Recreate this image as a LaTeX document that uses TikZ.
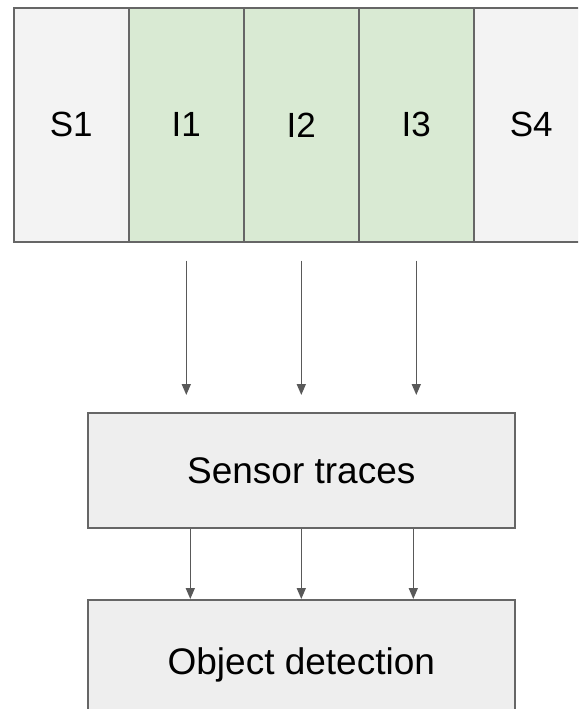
\documentclass[tikz,border=0pt]{standalone}
\usepackage{fontspec}
\setmainfont{Liberation Sans}
\usetikzlibrary{arrows.meta}
\definecolor{cellgray}{HTML}{F3F3F3}
\definecolor{cellgreen}{HTML}{D9EAD3}
\definecolor{boxgray}{HTML}{EEEEEE}
\definecolor{edge}{HTML}{666666}
\definecolor{arrowc}{HTML}{595959}
\tikzset{
  cell/.style={draw=edge, line width=1.6pt, minimum width=115pt, minimum height=234pt, inner sep=0pt, anchor=north west, font=\fontsize{35}{40}\selectfont},
  graycell/.style={cell, fill=cellgray},
  greencell/.style={cell, fill=cellgreen},
  procbox/.style={draw=edge, line width=1.6pt, fill=boxgray, minimum width=427pt, minimum height=115pt, inner sep=0pt, anchor=north west, font=\fontsize{37}{42}\selectfont},
  arr/.style={draw=arrowc, line width=1.6pt, -{Triangle[width=9pt,length=11pt]}}
}
\begin{document}
\begin{tikzpicture}[x=1pt,y=-1pt]
\useasboundingbox (0,0) rectangle (578,709);
\clip (0,0) rectangle (578,709);
\node[graycell] (S1) at (13,7) {S1};
\node[greencell] (I1) at (128,7) {I1};
\node[greencell] (I2) at (243,7) {I2};
\node[greencell] (I3) at (358,7) {I3};
\node[graycell] (S4) at (473,7) {S4};
\node[procbox] (sensor) at (87,412) {Sensor traces};
\node[procbox, minimum height=130pt] (obj) at (87,599) {\raisebox{-8pt}{Object detection}};
\foreach \n in {I1,I2,I3}
  \draw[arr, shorten <=18pt, shorten >=17pt] (\n.south) -- (\n.south |- sensor.north);
\foreach \dx in {-111,0,112}
  \draw[arr] ([xshift=\dx pt]sensor.south) -- ([xshift=\dx pt]obj.north);
\end{tikzpicture}
\end{document}
